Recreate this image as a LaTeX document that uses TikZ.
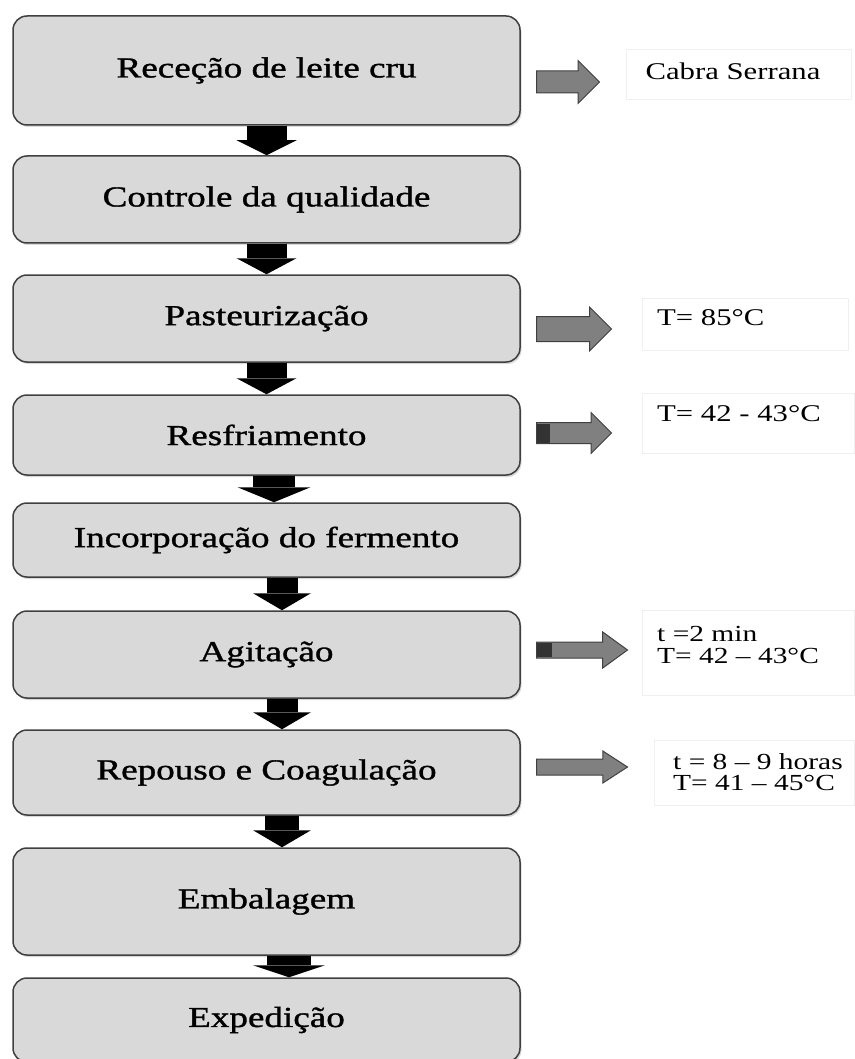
\documentclass[tikz,border=0pt]{standalone}
\usepackage{fontspec}
\setmainfont{Liberation Serif}[FakeStretch=1.28]
\newfontfamily\etapafont{Liberation Serif}[FakeStretch=1.28, FakeBold=1.2]
\usetikzlibrary{arrows.meta,shapes.arrows,shadows}

\begin{document}
\begin{tikzpicture}[x=1pt,y=-1pt,
    etapa/.style ={rectangle, rounded corners=14pt, draw=black!75, line width=1.5pt, fill=black!15,
      minimum width=507pt, inner sep=0pt, font=\etapafont\fontsize{29}{32}\selectfont,
      drop shadow={shadow xshift=1.5pt, shadow yshift=-2pt, opacity=0.3}},
    descer/.style n args={3}{line width=#1, black, -{Triangle[width=#2, length=#3, line width=0pt]}},
    lateral/.style ={single arrow, draw=black!75, fill=black!50, line width=1pt, inner xsep=0pt,
      single arrow head indent=0pt, shape border rotate=0, anchor=tail},
    caixa/.style ={draw=black!6, fill=white},
    nota/.style ={inner sep=0pt, align=left, font=\fontsize{23}{22}\selectfont}]
   \useasboundingbox (0,0) rectangle (854,1059);

   \node[etapa, minimum height=109pt] (b1) at (266.5,70.5)  {Receção de leite cru};
   \node[etapa, minimum height=87pt]  (b2) at (266.5,199.5) {Controle da qualidade};
   \node[etapa, minimum height=87pt]  (b3) at (266.5,318.5) {Pasteurização};
   \node[etapa, minimum height=80pt]  (b4) at (266.5,435)   {Resfriamento};
   \node[etapa, minimum height=74pt]  (b5) at (266.5,540)   {Incorporação do fermento};
   \node[etapa, minimum height=87pt]  (b6) at (266.5,654.5) {Agitação};
   \node[etapa, minimum height=85pt]  (b7) at (266.5,772.5) {Repouso e Coagulação};
   \node[etapa, minimum height=107pt] (b8) at (266.5,901.5) {Embalagem};
   \node[etapa, minimum height=84pt]  (b9) at (266.5,1020)  {Expedição};

   \draw[descer={40pt}{60pt}{15pt}] (b1.south) to (b2.north);
   \draw[descer={40pt}{60pt}{16pt}] (b2.south) to (b3.north);
   \draw[descer={40pt}{60pt}{16pt}] (b3.south) to (b4.north);
   \draw[descer={42pt}{73pt}{15pt}] ([xshift=7.5pt]b4.south) to ([xshift=7.5pt]b5.north);
   \draw[descer={31pt}{58pt}{17pt}] ([xshift=15.5pt]b5.south) to ([xshift=15.5pt]b6.north);
   \draw[descer={31pt}{58pt}{17pt}] ([xshift=15.5pt]b6.south) to ([xshift=15.5pt]b7.north);
   \draw[descer={34pt}{58pt}{17pt}] ([xshift=15.5pt]b7.south) to ([xshift=15.5pt]b8.north);
   \draw[descer={44pt}{72pt}{12pt}] ([xshift=22.5pt]b8.south) to ([xshift=22.5pt]b9.north);

   % side notes
   \draw[caixa] (626,49) rectangle (851,99);
   \draw[caixa] (642,298) rectangle (848,350);
   \draw[caixa] (642,393) rectangle (854,453);
   \draw[caixa] (642,610) rectangle (854,695);
   \draw[caixa] (654,740) rectangle (854,805);

   \node[nota, font=\fontsize{24}{26}\selectfont] (n1) at (733,71) {Cabra Serrana};
   \node[nota, anchor=west, font=\fontsize{24}{26}\selectfont] (n3) at (657,318) {T= 85°C};
   \node[nota, anchor=west, font=\fontsize{24}{26}\selectfont] (n4) at (657,414) {T= 42 - 43°C};
   \node[nota, anchor=west] (n6) at (657,645) {t =2 min\\T= 42 – 43°C};
   \node[nota, anchor=west, font=\fontsize{23}{21}\selectfont] (n7) at (673,772) {t = 8 – 9 horas\\T= 41 – 45°C};

   \node[lateral, minimum height=63pt, inner ysep=10.5pt, single arrow head extend=10.5pt] (a1) at (536,82) {};
   \node[lateral, minimum height=75pt, inner ysep=12pt, single arrow head extend=9.5pt] (a3) at (536,329) {};
   \node[lateral, minimum height=75pt, inner ysep=10pt, single arrow head extend=10pt] (a4) at (536,433) {};
   \node[lateral, minimum height=91pt, inner ysep=7.5pt, single arrow head extend=10pt, single arrow tip angle=72] (a6) at (536,650) {};
   \node[lateral, minimum height=91pt, inner ysep=7.5pt, single arrow head extend=8pt, single arrow tip angle=66] (a7) at (536,767) {};
   \fill[black!80] (536.5,423.5) rectangle (550,442.5);
   \fill[black!80] (536.5,643) rectangle (552,657);
 \end{tikzpicture}
\end{document}
